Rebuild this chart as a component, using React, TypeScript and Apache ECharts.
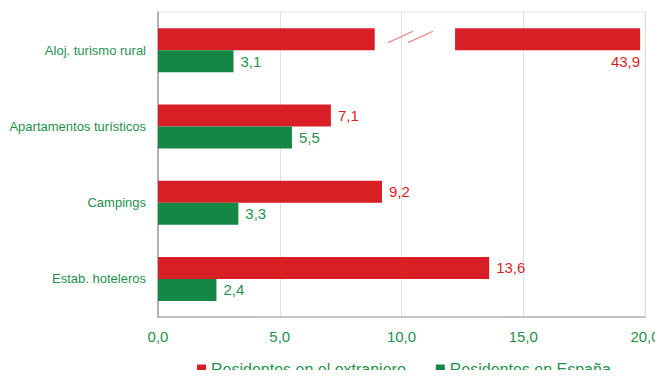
import React, { useEffect, useRef } from "react";
import * as echarts from "echarts";

const categories = ["Aloj. turismo rural", "Apartamentos turísticos", "Campings", "Estab. hoteleros"];
const extranjero = [43.9, 7.1, 9.2, 13.6];
const espana = [3.1, 5.5, 3.3, 2.4];
const axisMin = 0;
const axisMax = 20;
const axisInterval = 5;
// broken-bar display values (on the axis scale)
const breakFrom = 8.9;
const breakTo = 12.2;
const brokenEnd = 19.8;
const breakMarkStarts = [9.45, 10.27];
const breakMarkSpan = 1.02;

const RED = "#d91f26";
const GREEN = "#138744";
const TEXT_GREEN = "#1f914f";
const FONT = "Arial";
const BAR_W = 22;

const fmt = (v: number) => v.toFixed(1).replace(".", ",");

export default function App() {
  const ref = useRef<HTMLDivElement>(null);
  useEffect(() => {
    if (!ref.current) return;
    const chart = echarts.init(ref.current, undefined, { renderer: "svg" });
    const redLabel = {
      show: true,
      position: "right",
      distance: 7,
      color: RED,
      fontSize: 15,
      fontFamily: FONT,
      formatter: (p: any) => fmt(extranjero[p.dataIndex]),
    };
    chart.setOption({
      animation: false,
      textStyle: { fontFamily: FONT },
      grid: {
        left: 158,
        right: 18,
        top: 12,
        bottom: 61,
        show: true,
        borderColor: "#e6e6e6",
        borderWidth: 1,
      },
      legend: {
        data: ["Residentes en el extranjero", "Residentes en España"],
        left: 197,
        top: 361,
        padding: 0,
        icon: "rect",
        itemWidth: 9,
        itemHeight: 9,
        itemGap: 30,
        textStyle: { color: TEXT_GREEN, fontSize: 16, fontFamily: FONT },
      },
      xAxis: {
        type: "value",
        min: axisMin,
        max: axisMax,
        interval: axisInterval,
        axisLine: { show: true, lineStyle: { color: "#b3b3b3", width: 1.5 } },
        axisTick: { show: false },
        splitLine: { show: true, lineStyle: { color: "#e0e0e0", width: 1 } },
        axisLabel: {
          color: TEXT_GREEN,
          fontSize: 15,
          margin: 12,
          fontFamily: FONT,
          formatter: (v: number) => fmt(v),
        },
      },
      yAxis: {
        type: "category",
        data: categories,
        inverse: true,
        axisLine: { show: true, lineStyle: { color: "#b3b3b3", width: 2 } },
        axisTick: { show: false },
        axisLabel: { color: TEXT_GREEN, fontSize: 13, margin: 12, fontFamily: FONT },
      },
      series: [
        {
          name: "Residentes en el extranjero",
          type: "bar",
          stack: "ext",
          barWidth: BAR_W,
          barGap: "0%",
          itemStyle: { color: RED },
          label: redLabel,
          data: extranjero.map((v) =>
            v > axisMax ? { value: breakFrom, label: { show: false } } : v
          ),
        },
        {
          name: "gap",
          type: "bar",
          stack: "ext",
          barWidth: BAR_W,
          barGap: "0%",
          silent: true,
          itemStyle: { color: "rgba(0,0,0,0)" },
          label: { show: false },
          data: extranjero.map((v) => (v > axisMax ? breakTo - breakFrom : 0)),
        },
        {
          name: "Residentes en el extranjero",
          type: "bar",
          stack: "ext",
          barWidth: BAR_W,
          barGap: "0%",
          itemStyle: { color: RED },
          label: { show: false },
          data: extranjero.map((v) =>
            v > axisMax
              ? {
                  value: brokenEnd - breakTo,
                  label: {
                    show: true,
                    position: ["100%", "100%"],
                    align: "right",
                    verticalAlign: "top",
                    offset: [0, 4],
                    color: RED,
                    fontSize: 15,
                    fontFamily: FONT,
                    formatter: () => fmt(v),
                  },
                }
              : 0
          ),
        },
        {
          name: "Residentes en España",
          type: "bar",
          barWidth: BAR_W,
          barGap: "0%",
          itemStyle: { color: GREEN },
          label: {
            show: true,
            position: "right",
            distance: 7,
            color: TEXT_GREEN,
            fontSize: 15,
            fontFamily: FONT,
            formatter: (p: any) => fmt(p.value),
          },
          data: espana,
        },
        {
          name: "breakMarks",
          type: "custom",
          silent: true,
          z: 5,
          encode: { x: 0, y: 1 },
          data: extranjero
            .map((v, i) => (v > axisMax ? [breakFrom, i] : null))
            .filter((d) => d !== null),
          renderItem: (params: any, api: any) => {
            const cat = api.value(1);
            const children = breakMarkStarts.map((s) => {
              const p1 = api.coord([s, cat]);
              const p2 = api.coord([s + breakMarkSpan, cat]);
              return {
                type: "line",
                shape: {
                  x1: p1[0],
                  y1: p1[1] - BAR_W * 0.34,
                  x2: p2[0],
                  y2: p2[1] - BAR_W * 0.86,
                },
                style: { stroke: "#e8868a", lineWidth: 1.2 },
              };
            });
            return { type: "group", children };
          },
        },
      ],
    });
    return () => chart.dispose();
  }, []);
  return <div ref={ref} style={{ width: 663, height: 378, margin: -8 }} />;
}
